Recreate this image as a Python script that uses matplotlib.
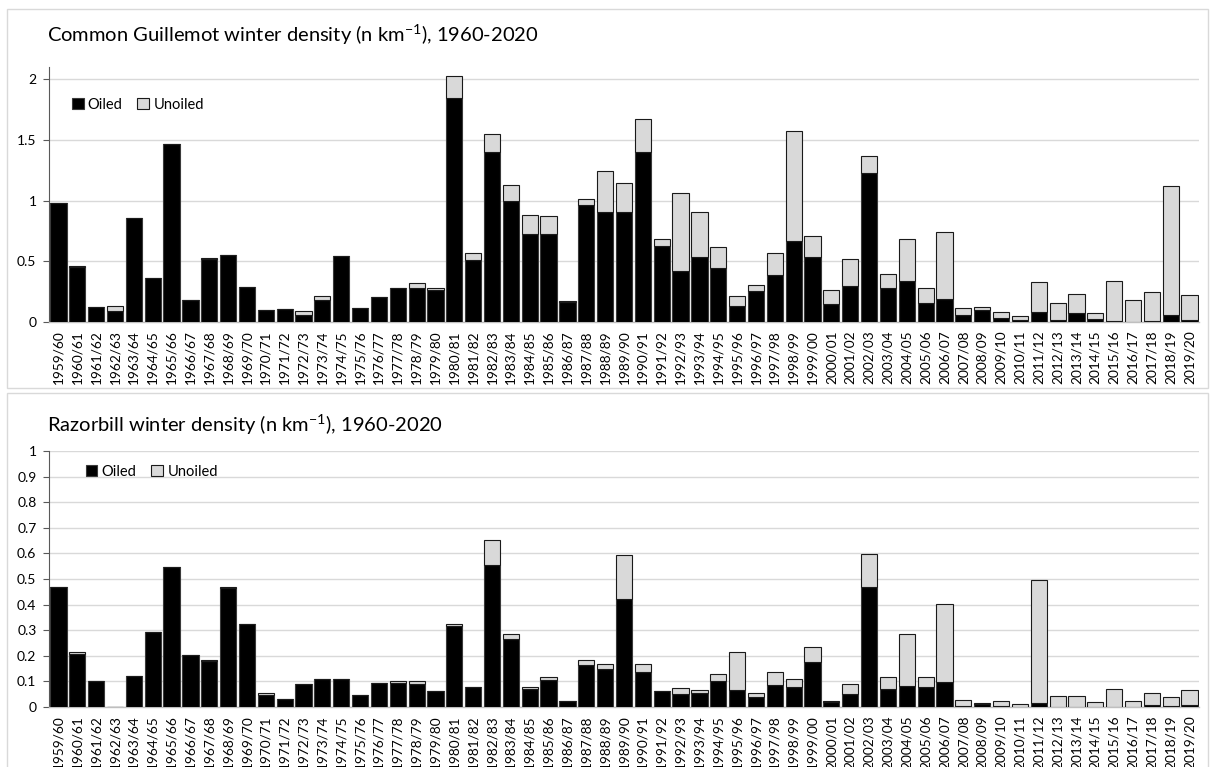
import matplotlib.pyplot as plt
import numpy as np
from matplotlib.patches import Rectangle

plt.rcParams['font.family'] = ['Lato', 'DejaVu Sans']

seasons = [f'{y}/{str(y + 1)[-2:]}' for y in range(1959, 2020)]

# Common Guillemot (n km-1)
cg_oiled = [0.978, 0.455, 0.124, 0.088, 0.86, 0.365, 1.464, 0.179, 0.519, 0.549,
            0.288, 0.096, 0.107, 0.055, 0.184, 0.544, 0.118, 0.209, 0.277, 0.278,
            0.261, 1.846, 0.514, 1.404, 1.0, 0.723, 0.723, 0.165, 0.962, 0.907,
            0.904, 1.396, 0.624, 0.42, 0.536, 0.448, 0.135, 0.255, 0.387, 0.665,
            0.536, 0.148, 0.297, 1.225, 0.283, 0.335, 0.154, 0.187, 0.055, 0.096,
            0.033, 0.019, 0.082, 0.016, 0.077, 0.025, 0.005, 0.003, 0.005, 0.06,
            0.016]
cg_total = [0.98, 0.465, 0.124, 0.135, 0.86, 0.365, 1.464, 0.179, 0.53, 0.549,
            0.288, 0.096, 0.107, 0.091, 0.212, 0.544, 0.118, 0.209, 0.277, 0.321,
            0.283, 2.022, 0.571, 1.547, 1.126, 0.885, 0.874, 0.173, 1.014, 1.247,
            1.143, 1.673, 0.687, 1.063, 0.909, 0.618, 0.217, 0.308, 0.569, 1.577,
            0.709, 0.264, 0.516, 1.368, 0.396, 0.684, 0.283, 0.742, 0.115, 0.121,
            0.082, 0.052, 0.33, 0.154, 0.228, 0.074, 0.341, 0.179, 0.247, 1.121,
            0.223]

# Razorbill (n km-1)
rb_oiled = [0.467, 0.207, 0.1, 0.0, 0.12, 0.293, 0.548, 0.203, 0.18, 0.463,
            0.323, 0.047, 0.031, 0.089, 0.111, 0.11, 0.046, 0.093, 0.095, 0.089,
            0.061, 0.316, 0.077, 0.555, 0.266, 0.072, 0.107, 0.025, 0.166, 0.15,
            0.421, 0.136, 0.061, 0.05, 0.055, 0.102, 0.066, 0.039, 0.085, 0.077,
            0.177, 0.02, 0.052, 0.468, 0.069, 0.081, 0.08, 0.096, 0.003, 0.01,
            0.003, 0.0, 0.016, 0.0, 0.0, 0.0, 0.0, 0.0, 0.006, 0.005,
            0.007]
rb_total = [0.467, 0.213, 0.1, 0.0, 0.123, 0.293, 0.548, 0.203, 0.185, 0.468,
            0.323, 0.056, 0.031, 0.089, 0.111, 0.11, 0.046, 0.093, 0.1, 0.103,
            0.061, 0.325, 0.077, 0.651, 0.286, 0.078, 0.117, 0.025, 0.184, 0.169,
            0.595, 0.169, 0.061, 0.073, 0.068, 0.128, 0.215, 0.055, 0.138, 0.11,
            0.233, 0.025, 0.09, 0.597, 0.116, 0.284, 0.117, 0.402, 0.027, 0.017,
            0.025, 0.01, 0.495, 0.042, 0.044, 0.02, 0.069, 0.025, 0.056, 0.039,
            0.065]

W, H = 1212, 767
fig = plt.figure(figsize=(W / 100, H / 100), dpi=100)

# chart-area frames
for (x0, y0, x1, y1) in [(7, 9, 1208, 388), (7, 393, 1208, 770)]:
    fig.patches.append(Rectangle((x0 / W, 1 - y1 / H), (x1 - x0) / W, (y1 - y0) / H,
                                 transform=fig.transFigure, fill=False,
                                 edgecolor='#d9d9d9', linewidth=1))


def panel(rect, oiled, total, ymax, yticks, title, title_y, leg_xy):
    ax = fig.add_axes(rect)
    x = np.arange(len(seasons))
    oiled = np.array(oiled)
    unoiled = np.array(total) - oiled
    ax.bar(x, oiled, width=0.86, color='black', edgecolor='#3a3a3a',
           linewidth=0.8, label='Oiled', zorder=3)
    ax.bar(x, unoiled, bottom=oiled, width=0.86, color='#d9d9d9',
           edgecolor='#1a1a1a', linewidth=0.8, label='Unoiled', zorder=3)
    ax.set_xlim(-0.5, len(seasons) - 0.5)
    ax.set_ylim(0, ymax)
    ax.set_yticks(yticks)
    ax.set_yticklabels([f'{t:g}' for t in yticks], fontsize=10)
    ax.set_xticks(x)
    ax.set_xticklabels(seasons, rotation=90, fontsize=9.8)
    ax.tick_params(axis='x', length=0, pad=6)
    ax.tick_params(axis='y', length=4, color='#595959', pad=5)
    ax.grid(axis='y', color='#d9d9d9', linewidth=1, zorder=0)
    for s in ['top', 'right']:
        ax.spines[s].set_visible(False)
    ax.spines['left'].set_color('#595959')
    ax.spines['bottom'].set_color('#bfbfbf')
    ax.spines['bottom'].set_linewidth(1)
    fig.text(47 / W, 1 - title_y / H, title, fontsize=14.5, va='center', ha='left')
    ax.legend(loc='upper left', bbox_to_anchor=leg_xy, bbox_transform=fig.transFigure,
              ncol=2, frameon=False, fontsize=10.5, handlelength=0.8, handleheight=0.8,
              handletextpad=0.3, columnspacing=1.0, borderaxespad=0)
    return ax


panel([49 / W, 1 - 322 / H, 1150 / W, 255 / H], cg_oiled, cg_total, 2.1,
      [0, 0.5, 1, 1.5, 2],
      r'Common Guillemot winter density (n km$^{\mathregular{-1}}$), 1960-2020',
      35, (66 / W, 1 - 92 / H))
panel([49 / W, 1 - 707 / H, 1150 / W, 256 / H], rb_oiled, rb_total, 1.0,
      list(np.round(np.arange(0, 1.01, 0.1), 1)),
      r'Razorbill winter density (n km$^{\mathregular{-1}}$), 1960-2020',
      425, (80 / W, 1 - 459 / H))

fig.savefig('out.png', dpi=100)
